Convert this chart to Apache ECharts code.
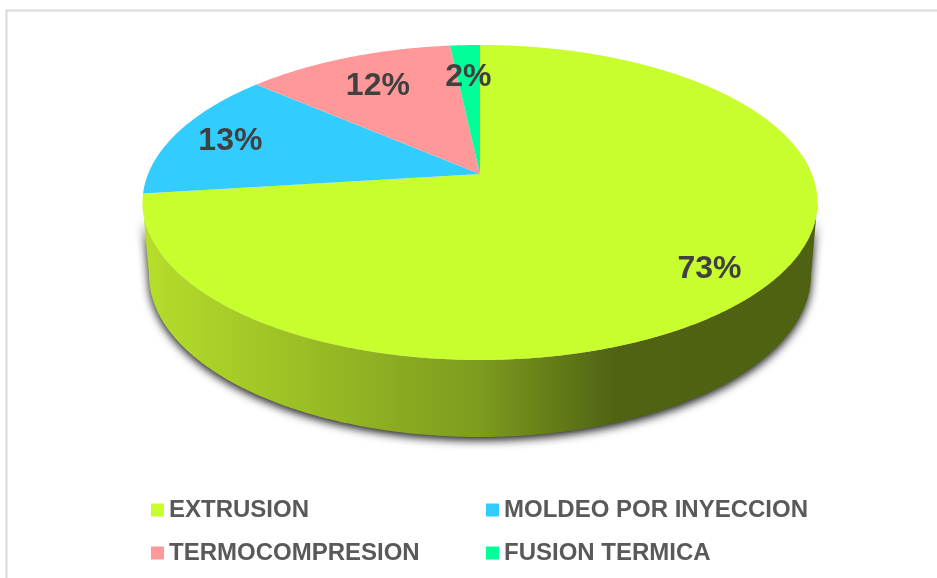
<!DOCTYPE html>
<html>
<head>
<meta charset="utf-8">
<script src="https://cdn.jsdelivr.net/npm/echarts@6/dist/echarts.min.js"></script>
<style>
    html, body { margin: 0; padding: 0; background: #fff; }
    #chart { width: 937px; height: 578px; }
</style>
</head>
<body>
<div id="chart"></div>
<script>
var categories = ['EXTRUSION', 'MOLDEO POR INYECCION', 'TERMOCOMPRESION', 'FUSION TERMICA'];
var shares = [73, 13.4, 11.9, 1.7];
var colors = ['#c8fd2e', '#33ccff', '#ff9999', '#00ff99'];

// pie layout, a tilted disc seen in perspective
var top_rim = { cx: 480, cy: 202.5, rx: 337.5, ry: 157.5 };
var low_rim = { cx: 480, cy: 275, rx: 331, ry: 162 };
var tilt = -0.181;
var label_radius = [0.83, 0.82, 0.745, 0.74];

var total = shares.reduce(function (a, b) { return a + b; }, 0);

// share offset (clockwise from 12 o'clock) to a point on the tilted disc
function project(rim, share, r) {
    var ang = share / total * 2 * Math.PI;
    var x = r * Math.sin(ang);
    var y = -r * Math.cos(ang);
    var d = 1 + tilt * y;
    return [
        rim.cx + rim.rx * x * Math.sqrt(1 - tilt * tilt) / d,
        rim.cy + rim.ry * (y + tilt) / d
    ];
}

function rim_points(rim, from, to) {
    var pts = [];
    for (var s = from; s < to; s += 0.1) {
        pts.push(project(rim, s, 1));
    }
    pts.push(project(rim, to, 1));
    return pts;
}

function renderSlice(params, api) {
    var i = params.seriesIndex;
    var start = 0;
    for (var k = 0; k < i; k++) start += shares[k];
    var end = start + api.value(0);
    var children = [];

    // only the front of the wall shows
    var front = rim_points(top_rim, start, end).filter(function (p) { return p[1] >= top_rim.cy; });
    if (front.length > 1) {
        var low = rim_points(low_rim, start, end).filter(function (p) { return p[1] >= low_rim.cy; });
        children.push({
            type: 'polygon',
            z2: 1,
            shape: { points: front.concat(low.reverse()) },
            style: {
                fill: new echarts.graphic.LinearGradient(0, 0, 1, 0, [
                    { offset: 0, color: '#b6de2b' },
                    { offset: 0.3, color: '#93b623' },
                    { offset: 0.5, color: '#7d9b1e' },
                    { offset: 0.7, color: '#506313' },
                    { offset: 1, color: '#4f6212' }
                ]),
                shadowBlur: 10,
                shadowColor: 'rgba(20,20,20,1)',
                shadowOffsetY: 3
            }
        });
    }

    children.push({
        type: 'polygon',
        z2: 2,
        shape: { points: [project(top_rim, 0, 0)].concat(rim_points(top_rim, start, end)) },
        style: { fill: colors[i] }
    });

    var at = project(top_rim, start + api.value(0) / 2, label_radius[i]);
    children.push({
        type: 'text',
        z2: 10,
        x: at[0],
        y: at[1] + 2.5,
        style: {
            text: Math.round(api.value(0)) + '%',
            fill: '#404040',
            font: 'bold 32px "Liberation Sans", Arial, sans-serif',
            align: 'center',
            verticalAlign: 'middle'
        }
    });

    return { type: 'group', children: children };
}

var chart = echarts.init(document.getElementById('chart'), null, { renderer: 'canvas' });

var legend_text = {
    color: '#595959',
    fontFamily: '"Liberation Sans", Arial, sans-serif',
    fontWeight: 'bold',
    fontSize: 24
};

var option = {
    animation: false,
    backgroundColor: '#ffffff',
    graphic: [{
        type: 'polyline',
        silent: true,
        shape: { points: [[6.5, 578], [6.5, 10.5], [937, 10.5]] },
        style: { stroke: '#d9d9d9', lineWidth: 2, fill: null }
    }],
    legend: [
        {
            left: 151,
            top: 498,
            orient: 'vertical',
            icon: 'rect',
            itemWidth: 13,
            itemHeight: 13,
            itemGap: 19,
            padding: 0,
            selectedMode: false,
            textStyle: legend_text,
            data: [categories[0], categories[2]]
        },
        {
            left: 486,
            top: 498,
            orient: 'vertical',
            icon: 'rect',
            itemWidth: 13,
            itemHeight: 13,
            itemGap: 19,
            padding: 0,
            selectedMode: false,
            textStyle: legend_text,
            data: [categories[1], categories[3]]
        }
    ],
    series: categories.map(function (name, i) {
        return {
            type: 'custom',
            name: name,
            coordinateSystem: 'none',
            renderItem: renderSlice,
            itemStyle: { color: colors[i] },
            data: [[shares[i]]]
        };
    })
};

chart.setOption(option);
</script>
</body>
</html>
